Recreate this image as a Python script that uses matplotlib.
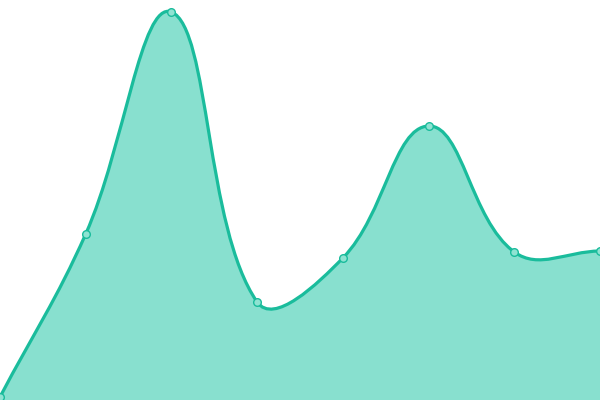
import numpy as np
import matplotlib
matplotlib.use("Agg")
import matplotlib.pyplot as plt
from matplotlib.path import Path
from matplotlib.patches import PathPatch

categories = ["A", "B", "C", "D", "E", "F", "G", "H"]
values = [3, 166, 388, 98, 142, 274, 148, 149]

LINE = "#1ABC9C"
FILL = "#88E0CF"
TENSION = 0.4

fig = plt.figure(figsize=(6, 4), dpi=100)
ax = fig.add_axes([0, 0, 1, 1])
ax.set_xlim(0, len(categories) - 1)
ax.set_ylim(0, 400)
ax.axis("off")

xs = np.arange(len(categories), dtype=float)
ys = np.array(values, dtype=float)
# pixel-space scale for tension computation
sx = 600 / (len(categories) - 1)
sy = 400 / 400
px = xs * sx
py = ys * sy

n = len(px)
cp_prev = np.zeros((n, 2))
cp_next = np.zeros((n, 2))
for i in range(n):
    p0 = np.array([px[max(i - 1, 0)], py[max(i - 1, 0)]])
    p1 = np.array([px[i], py[i]])
    p2 = np.array([px[min(i + 1, n - 1)], py[min(i + 1, n - 1)]])
    d01 = np.hypot(*(p1 - p0))
    d12 = np.hypot(*(p2 - p1))
    tot = d01 + d12
    s01 = d01 / tot if tot else 0
    s12 = d12 / tot if tot else 0
    fa = TENSION * s01
    fb = TENSION * s12
    cp_prev[i] = p1 - fa * (p2 - p0)
    cp_next[i] = p1 + fb * (p2 - p0)

verts = [(px[0], py[0])]
codes = [Path.MOVETO]
for i in range(n - 1):
    verts += [tuple(cp_next[i]), tuple(cp_prev[i + 1]), (px[i + 1], py[i + 1])]
    codes += [Path.CURVE4] * 3
verts = np.array(verts)
verts[:, 0] /= sx
verts[:, 1] /= sy

line_path = Path(verts, codes)
fill_verts = np.vstack([verts, [[verts[-1, 0], 0], [verts[0, 0], 0], verts[0]]])
fill_codes = codes + [Path.LINETO, Path.LINETO, Path.CLOSEPOLY]
ax.add_patch(PathPatch(Path(fill_verts, fill_codes), facecolor=FILL,
                       edgecolor="none"))
ax.add_patch(PathPatch(line_path, facecolor="none", edgecolor=LINE, lw=2.3))
ax.plot(xs, ys, "o", ms=5.5, mfc="#8FE3D2", mec=LINE, mew=1.0, zorder=5)

fig.savefig("out.png", dpi=100)
